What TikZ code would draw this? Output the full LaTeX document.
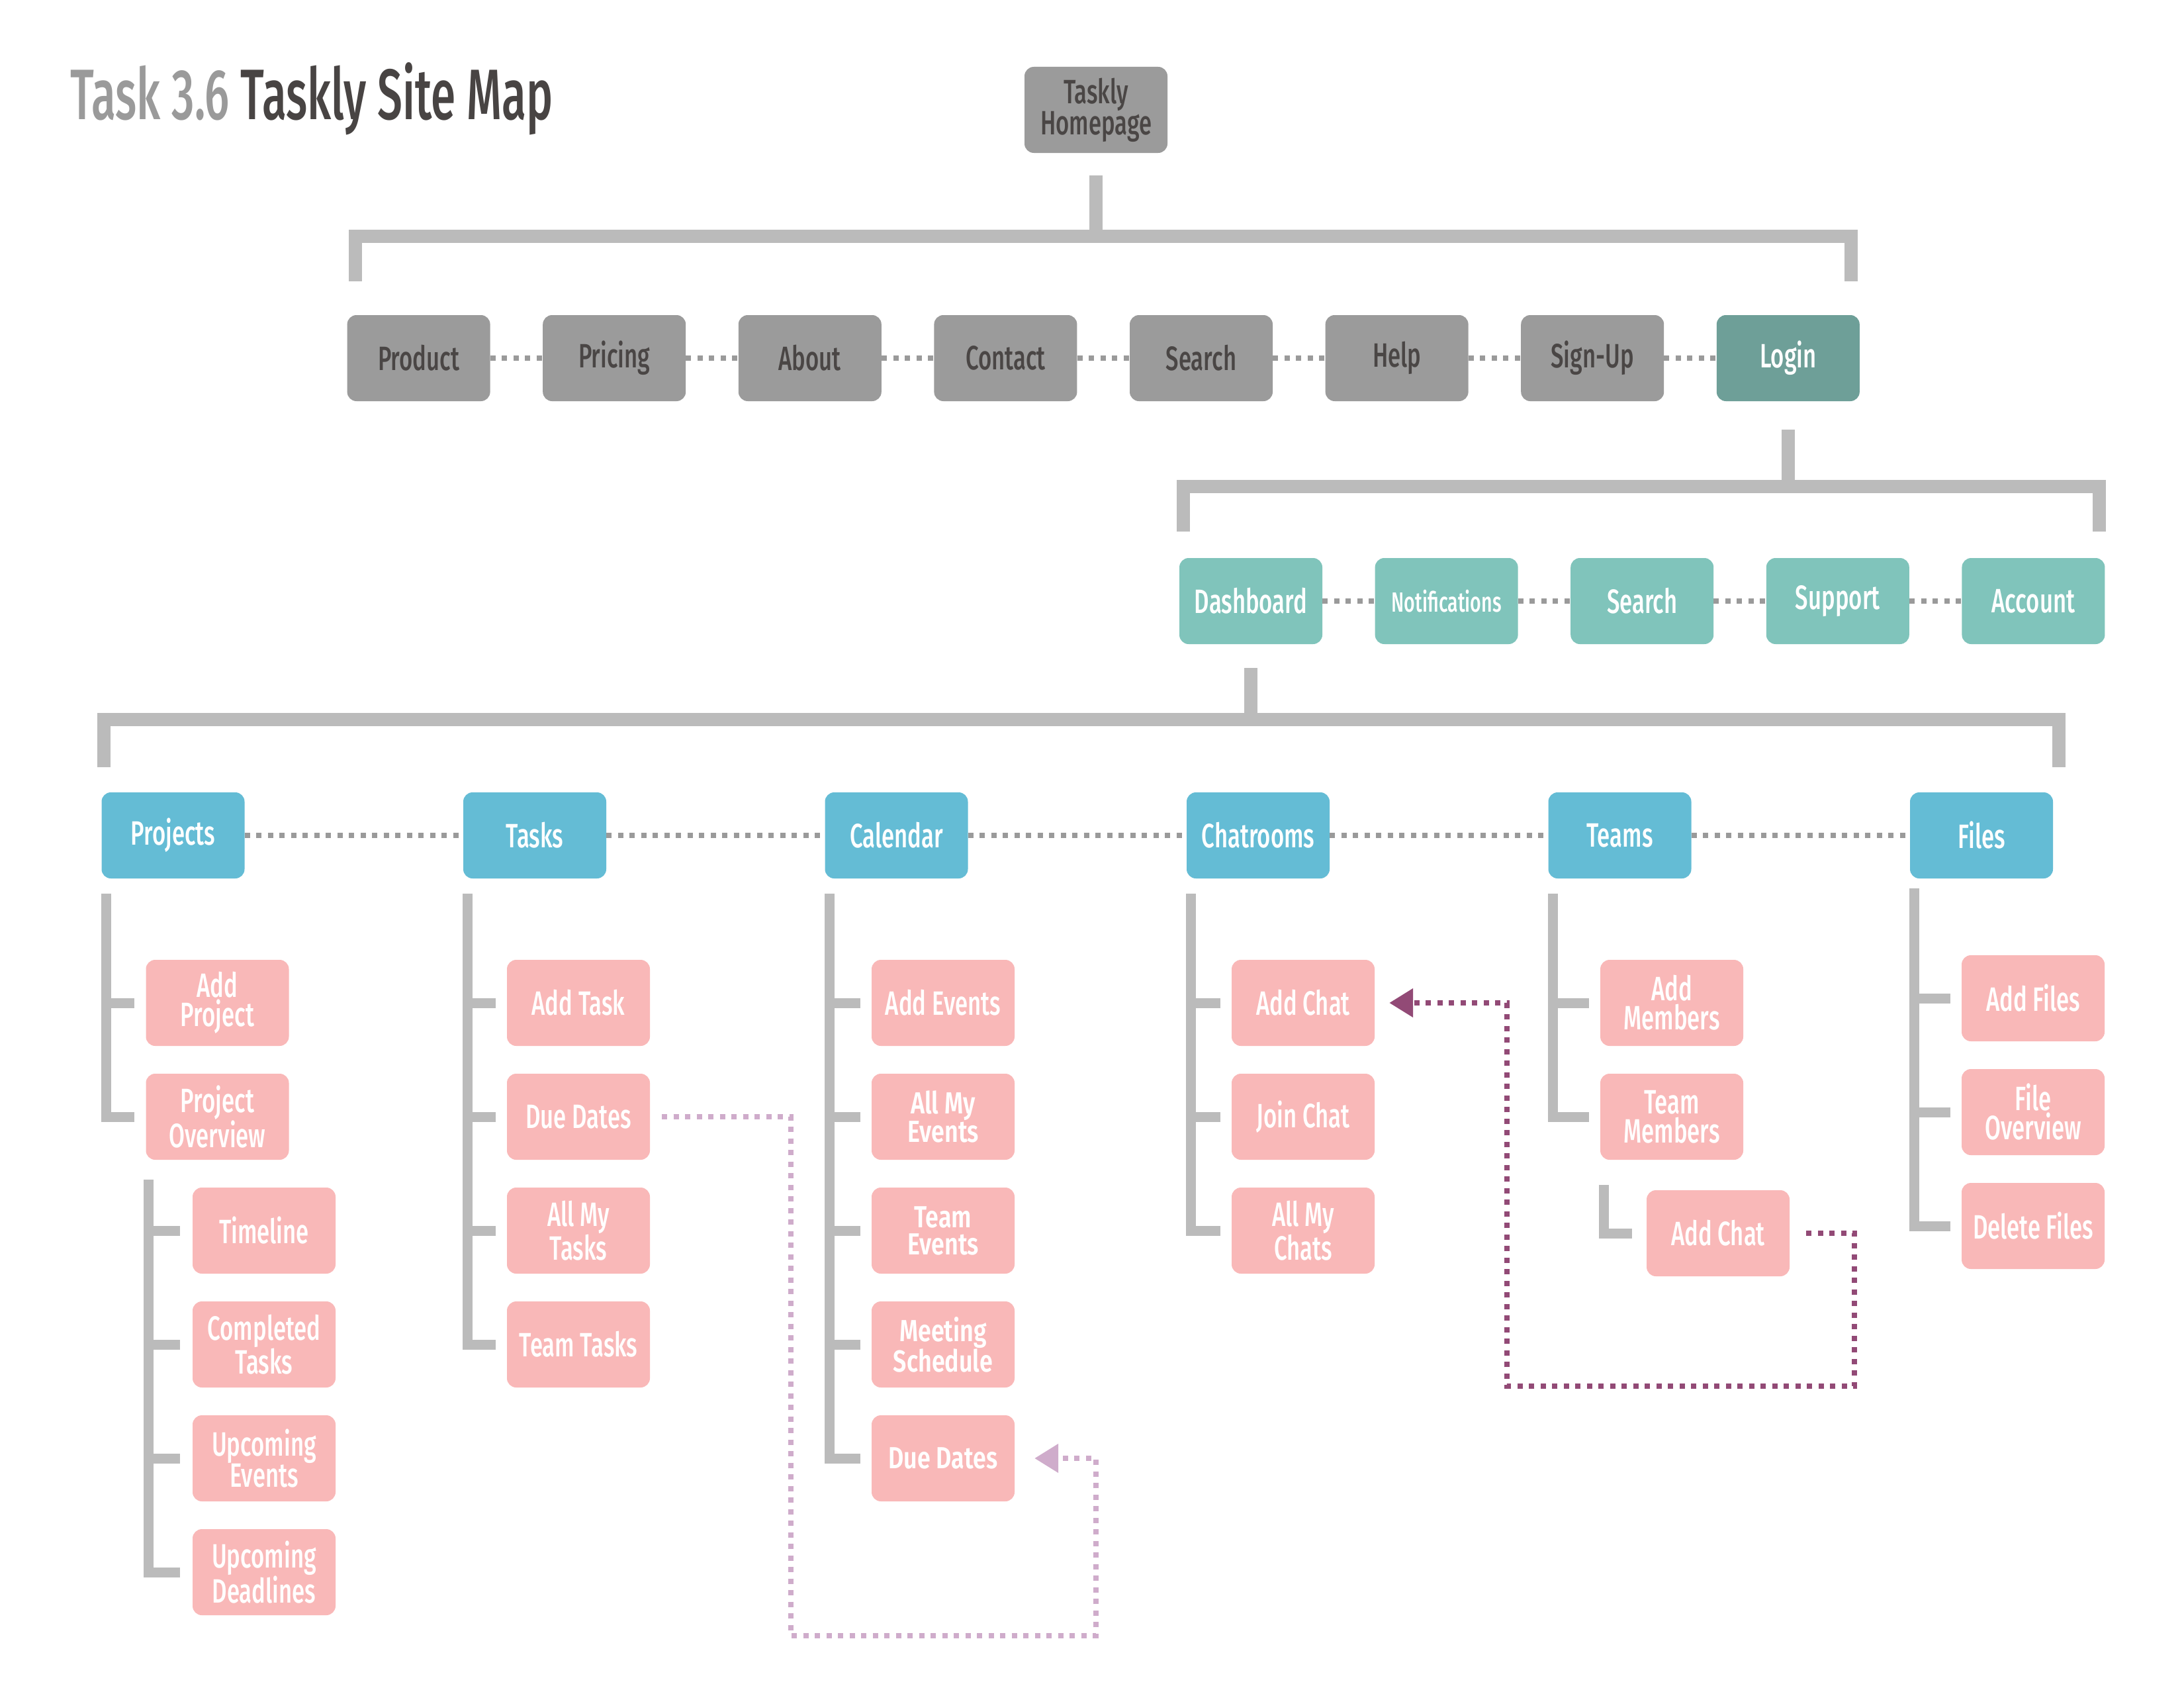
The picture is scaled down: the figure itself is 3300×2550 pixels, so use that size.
\documentclass[tikz,border=0pt]{standalone}
\usepackage{fontspec}
\setmainfont{Fira Sans Medium}[FakeStretch=0.68]
\newfontfamily\titlefont{Fira Sans Medium}[FakeStretch=0.625]
\newfontfamily\boldwide{Fira Sans SemiBold}[FakeStretch=0.78]
\usetikzlibrary{calc,arrows.meta}
\definecolor{boxgray}{HTML}{9B9B9B}
\definecolor{txtdark}{HTML}{4A4645}
\definecolor{titlegray}{HTML}{9A9A9A}
\definecolor{titledark}{HTML}{484443}
\definecolor{linegray}{HTML}{BBBBBB}
\definecolor{dotgray}{HTML}{9A9A9A}
\definecolor{tealdark}{HTML}{6E9F98}
\definecolor{teal}{HTML}{80C4BB}
\definecolor{skyblue}{HTML}{64BCD5}
\definecolor{pinkbox}{HTML}{F9B8B8}
\definecolor{lpurple}{HTML}{CFACCB}
\definecolor{dpurple}{HTML}{924A76}
\begin{document}
\begin{tikzpicture}[x=1pt,y=-1pt,
  box/.style={rounded corners=14pt, minimum width=216pt, minimum height=130pt,
    inner sep=0pt, align=center, text=white, font=\fontsize{51}{44}\selectfont},
  gbox/.style={box, fill=boxgray, text=txtdark},
  lbox/.style={box, fill=tealdark, text=white},
  tbox/.style={box, fill=teal},
  bbox/.style={box, fill=skyblue},
  pbox/.style={box, fill=pinkbox},
  bline/.style={draw=linegray, line width=20pt, line join=miter},
  cline/.style={draw=linegray, line width=15pt, line join=miter},
  dotline/.style={draw=dotgray, line width=8pt, dash pattern=on 8pt off 9.5pt},
  route/.style={line width=8pt, dash pattern=on 8pt off 9.5pt,
    -{Triangle[length=36pt,width=42pt]}},
]
\useasboundingbox (0,0) rectangle (3300,2550);
\fill[white] (0,0) rectangle (3300,2550);

% title
\node[anchor=base west, inner sep=0pt, font=\titlefont\fontsize{108}{120}\selectfont] (title) at (106,181)
  {\textcolor{titlegray}{Task 3.6} \textcolor{titledark}{Taskly Site Map}};

% homepage
\node[gbox] (home) at (1656,166) {Taskly\\Homepage};

% row 1
\node[gbox] (prod) at (632.6,541) {Product};
\node[gbox] (pric) at (928.2,541) {Pricing};
\node[gbox] (abou) at (1223.8,541) {About};
\node[gbox] (cont) at (1519.4,541) {Contact};
\node[gbox] (srcha) at (1815,541) {Search};
\node[gbox] (help) at (2110.6,541) {Help};
\node[gbox] (sign) at (2406.2,541) {Sign-Up};
\node[lbox] (login) at (2701.8,541) {Login};

% row 2
\node[tbox] (dash) at (1890,908) {Dashboard};
\node[tbox, font=\fontsize{42}{44}\selectfont] (noti) at (2185.6,908) {Notifications};
\node[tbox] (srchb) at (2481.2,908) {Search};
\node[tbox] (supp) at (2776.8,908) {Support};
\node[tbox] (acct) at (3072.4,908) {Account};

% row 3
\node[bbox] (proj) at (261.5,1262) {Projects};
\node[bbox] (task) at (808,1262) {Tasks};
\node[bbox] (cal) at (1354.5,1262) {Calendar};
\node[bbox] (chat) at (1901,1262) {Chatrooms};
\node[bbox] (team) at (2447.5,1262) {Teams};
\node[bbox] (file) at (2994,1262) {Files};

% projects children
\node[pbox] (padd) at (328.5,1515) {Add\\Project};
\node[pbox] (pov) at (328.5,1687) {Project\\Overview};
\node[pbox] (ptl) at (399,1859) {Timeline};
\node[pbox] (pct) at (399,2031) {Completed\\Tasks};
\node[pbox] (pue) at (399,2203) {Upcoming\\Events};
\node[pbox] (pud) at (399,2375) {Upcoming\\Deadlines};

% tasks children
\node[pbox] (tadd) at (874,1515) {Add Task};
\node[pbox] (tdue) at (874,1687) {Due Dates};
\node[pbox] (tall) at (874,1859) {All My\\Tasks};
\node[pbox] (tteam) at (874,2031) {Team Tasks};

% calendar children
\node[pbox] (cadd) at (1425,1515) {Add Events};
\node[pbox, font=\boldwide\fontsize{46}{41}\selectfont] (call) at (1425,1687) {All My\\Events};
\node[pbox, font=\boldwide\fontsize{46}{41}\selectfont] (cteam) at (1425,1859) {Team\\Events};
\node[pbox, font=\boldwide\fontsize{46}{41}\selectfont] (cmeet) at (1425,2031) {Meeting\\Schedule};
\node[pbox, font=\boldwide\fontsize{46}{41}\selectfont] (cdue) at (1425,2203) {Due Dates};

% chatrooms children
\node[pbox] (hadd) at (1969,1515) {Add Chat};
\node[pbox] (hjoin) at (1969,1687) {Join Chat};
\node[pbox] (hall) at (1969,1859) {All My\\Chats};

% teams children
\node[pbox] (madd) at (2526,1515) {Add\\Members};
\node[pbox] (mmem) at (2526,1687) {Team\\Members};
\node[pbox] (mchat) at (2596,1863) {Add Chat};

% files children
\node[pbox] (fadd) at (3072,1508) {Add Files};
\node[pbox] (fov) at (3072,1680) {File\\Overview};
\node[pbox] (fdel) at (3072,1852) {Delete Files};

% ---- tree bars ----
\coordinate (bara) at ($(prod.north west)+(13,-119)$);
\coordinate (barb) at ($(dash.north west)+(6,-108)$);
\coordinate (barc) at ($(proj.north west)+(4,-110)$);
\coordinate (bararight) at ($(login.north east)+(-13,-51)$);
\coordinate (barbright) at ($(acct.north east)+(-9,-40)$);
\coordinate (barcright) at ($(file.north east)+(9,-38)$);

\draw[bline] ($(home.south)+(0,34)$) -- (home.south |- bara);
\draw[bline] ($(prod.north west)+(13,-51)$) -- (bara) -| (bararight);

\draw[bline] ($(login.south)+(0,43)$) -- (login.south |- barb);
\draw[bline] ($(dash.north west)+(6,-40)$) -- (barb) -| (barbright);

\draw[bline] ($(dash.south)+(0,36)$) -- (dash.south |- barc);
\draw[bline] ($(proj.north west)+(4,-38)$) -- (barc) -| (barcright);

% ---- dotted siblings ----
\foreach \a/\b in {prod/pric,pric/abou,abou/cont,cont/srcha,srcha/help,help/sign,sign/login,
                   dash/noti,noti/srchb,srchb/supp,supp/acct,
                   proj/task,task/cal,cal/chat,chat/team,team/file}
  \draw[dotline] (\a.east) -- (\b.west);

% ---- children connectors ----
\coordinate (pv) at ($(proj.south west)+(7,23)$);
\foreach \c in {padd,pov} \draw[cline] (pv) |- ([xshift=-17pt]\c.west);
\coordinate (povv) at ($(pov.south west)+(4,30)$);
\foreach \c in {ptl,pct,pue,pud} \draw[cline] (povv) |- ([xshift=-19pt]\c.west);

\coordinate (tv) at ($(task.south west)+(7,23)$);
\foreach \c in {tadd,tdue,tall,tteam} \draw[cline] (tv) |- ([xshift=-17pt]\c.west);

\coordinate (cv) at ($(cal.south west)+(7,23)$);
\foreach \c in {cadd,call,cteam,cmeet,cdue} \draw[cline] (cv) |- ([xshift=-17pt]\c.west);

\coordinate (hv) at ($(chat.south west)+(7,23)$);
\foreach \c in {hadd,hjoin,hall} \draw[cline] (hv) |- ([xshift=-17pt]\c.west);

\coordinate (mv) at ($(team.south west)+(7,23)$);
\foreach \c in {madd,mmem} \draw[cline] (mv) |- ([xshift=-17pt]\c.west);
\coordinate (mmv) at ($(mmem.south west)+(6,38)$);
\draw[cline] (mmv) |- ([xshift=-22pt]mchat.west);

\coordinate (fv) at ($(file.south west)+(7,15)$);
\foreach \c in {fadd,fov,fdel} \draw[cline] (fv) |- ([xshift=-17pt]\c.west);

% ---- cross links ----
\coordinate (pa) at (1195,2471);
\coordinate (pb) at (1656,2471);
\draw[route, draw=lpurple] ([xshift=18pt]tdue.east) -| (pa) -- (pb) |- ([xshift=30pt]cdue.east);

\coordinate (qa) at (2802,2094);
\coordinate (qb) at (2277,2094);
\draw[route, draw=dpurple] ([xshift=25pt]mchat.east) -| (qa) -- (qb) |- ([xshift=22pt]hadd.east);
\end{tikzpicture}
\end{document}
